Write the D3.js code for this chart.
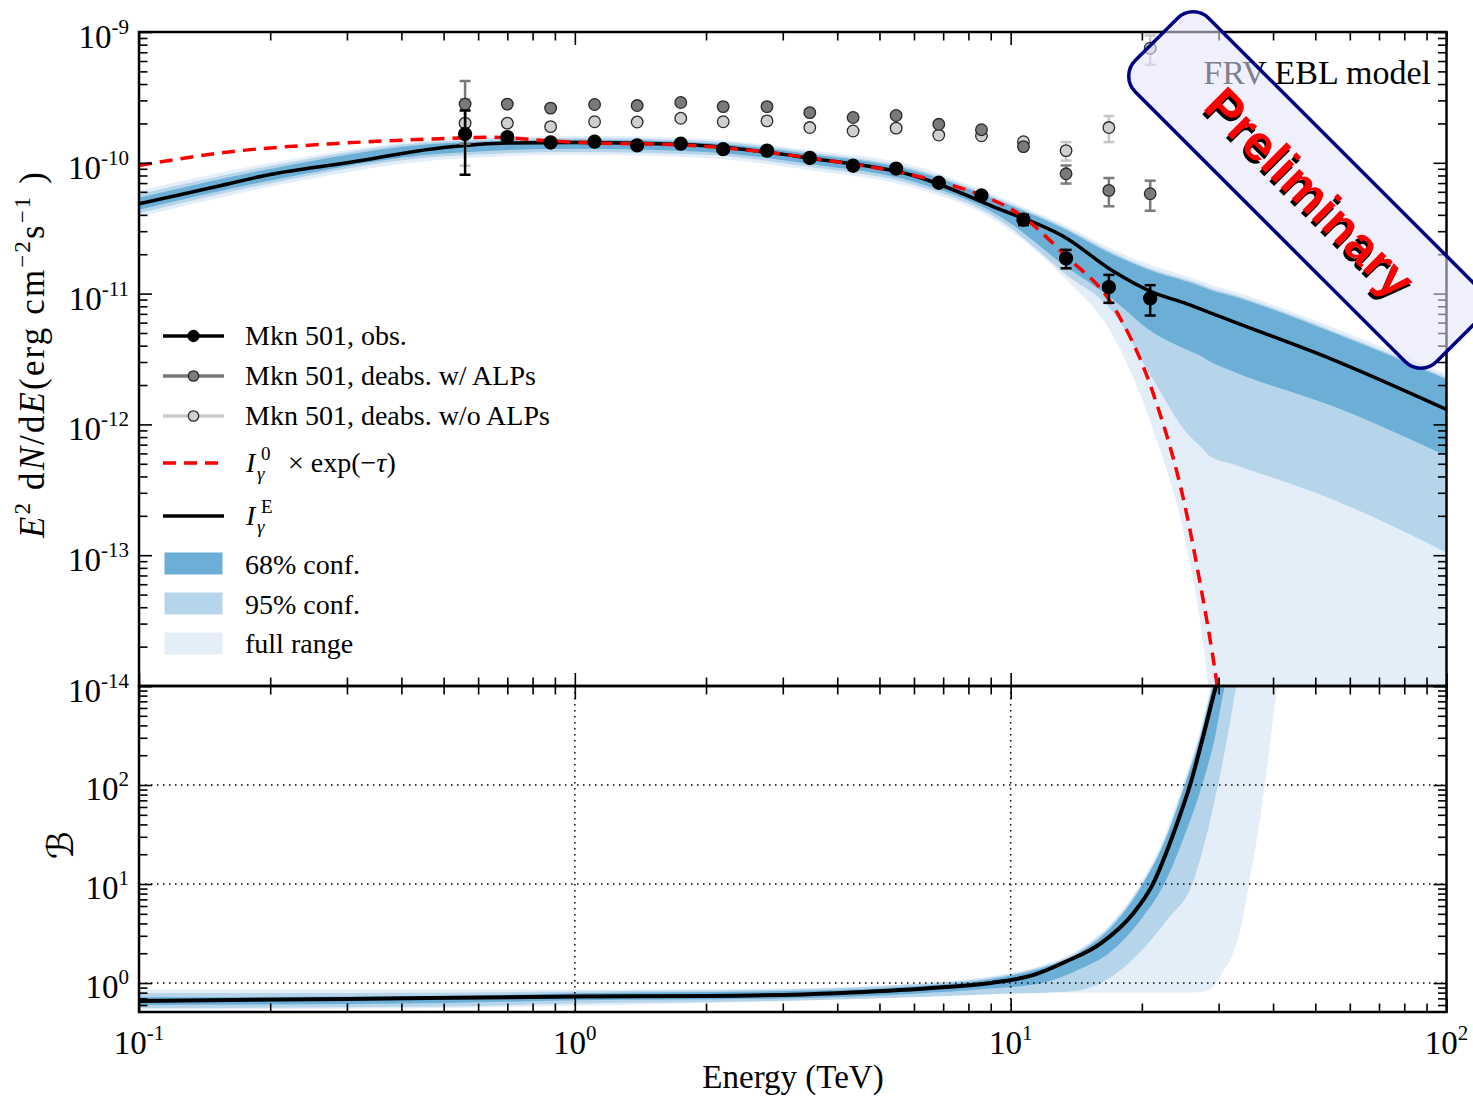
<!DOCTYPE html>
<html>
<head>
<meta charset="utf-8">
<script src="https://cdn.jsdelivr.net/npm/d3@7/dist/d3.min.js"></script>
<style>
  body { margin: 0; background: #fff; }
  svg text { font-family: "Liberation Serif", "Times New Roman", serif; fill: #000; }
</style>
</head>
<body>
<svg id="chart" width="1473" height="1097"></svg>
<script>
// Mkn 501 points (TeV, erg cm^-2 s^-1)
var energy = [0.56, 0.70, 0.88, 1.11, 1.39, 1.75, 2.19, 2.76, 3.46, 4.35, 5.46, 6.84, 8.57, 10.7, 13.4, 16.8, 20.9];
var fluxObs = [1.66e-10, 1.57e-10, 1.43e-10, 1.45e-10, 1.36e-10, 1.40e-10, 1.27e-10, 1.24e-10, 1.09e-10, 9.49e-11, 9.04e-11, 7.04e-11, 5.63e-11, 3.67e-11, 1.86e-11, 1.12e-11, 9.2e-12];
var errObs = [8.5e-11, 4e-12, 4e-12, 4e-12, 4e-12, 4e-12, 4e-12, 4e-12, 3e-12, 3e-12, 3e-12, 2.5e-12, 2.5e-12, 3.3e-12, 3.0e-12, 2.7e-12, 2.4e-12];
var fluxAlp = [2.81e-10, 2.81e-10, 2.62e-10, 2.79e-10, 2.74e-10, 2.89e-10, 2.69e-10, 2.69e-10, 2.42e-10, 2.22e-10, 2.30e-10, 1.97e-10, 1.79e-10, 1.33e-10, 8.24e-11, 6.15e-11, 5.80e-11];
var errAlp = [1.41e-10, 7e-12, 7e-12, 7e-12, 7e-12, 7e-12, 7e-12, 7e-12, 6e-12, 6e-12, 6e-12, 5e-12, 5e-12, 6e-12, 1.3e-11, 1.5e-11, 1.5e-11];
var fluxNoAlp = [2.01e-10, 2.01e-10, 1.89e-10, 2.06e-10, 2.05e-10, 2.19e-10, 2.06e-10, 2.09e-10, 1.86e-10, 1.75e-10, 1.84e-10, 1.63e-10, 1.61e-10, 1.45e-10, 1.24e-10, 1.86e-10, 7.51e-10];
var errNoAlp = [1.06e-10, 5e-12, 5e-12, 5e-12, 5e-12, 5e-12, 5e-12, 5e-12, 5e-12, 5e-12, 5e-12, 5e-12, 5e-12, 6e-12, 2.0e-11, 4.2e-11, 1.9e-10];

// intrinsic x exp(-tau)
var redEnergy = [0.1, 0.164, 0.279, 0.472, 0.65, 0.88, 1.11, 1.75, 3.46, 6.84, 8.4, 10.5, 13.4, 17.2, 21.2, 25.3, 27.1, 29.7, 30.5];
var redFlux = [9.53e-11, 1.22e-10, 1.40e-10, 1.52e-10, 1.57e-10, 1.47e-10, 1.42e-10, 1.37e-10, 1.09e-10, 7.16e-11, 5.8e-11, 4.01e-11, 1.93e-11, 8.0e-12, 1.75e-12, 2.12e-13, 6.56e-14, 1.07e-14, 5.6e-15];

// I_gamma^E
var ieEnergy = [0.1, 0.15, 0.2, 0.3, 0.5, 0.7, 1, 1.4, 2, 3.5, 6, 9.4, 13.4, 17.2, 21.2, 25.3, 28.6, 32.4, 54.8, 100];
var ieFlux = [4.86e-11, 6.56e-11, 8.15e-11, 1.00e-10, 1.31e-10, 1.42e-10, 1.43e-10, 1.41e-10, 1.35e-10, 1.08e-10, 7.96e-11, 4.44e-11, 2.66e-11, 1.48e-11, 1.02e-11, 8.39e-12, 7.16e-12, 6.11e-12, 3.13e-12, 1.30e-12];

// confidence bands, top panel
var bandEnergy = [0.1, 0.2, 0.5, 1, 2, 3.5, 6, 9.4, 13.4, 17.2, 21.2, 25.3, 27.7, 28.6, 32.4, 54.8, 100];
var hi68 = [5.41e-11, 8.97e-11, 1.41e-10, 1.50e-10, 1.42e-10, 1.16e-10, 8.69e-11, 5.11e-11, 3.08e-11, 1.98e-11, 1.48e-11, 1.24e-11, 1.12e-11, 1.07e-11, 9.53e-12, 5.04e-12, 2.21e-12];
var lo68 = [4.38e-11, 7.33e-11, 1.18e-10, 1.28e-10, 1.21e-10, 9.73e-11, 7.16e-11, 3.93e-11, 1.61e-11, 8.99e-12, 5.05e-12, 3.74e-12, 3.25e-12, 3.04e-12, 2.54e-12, 1.38e-12, 5.74e-13];
var hi95 = [5.75e-11, 9.46e-11, 1.46e-10, 1.55e-10, 1.47e-10, 1.20e-10, 9.0e-11, 5.28e-11, 3.18e-11, 2.05e-11, 1.53e-11, 1.28e-11, 1.16e-11, 1.11e-11, 9.86e-12, 5.21e-12, 2.29e-12];
var lo95 = [4.11e-11, 6.95e-11, 1.12e-10, 1.21e-10, 1.15e-10, 9.23e-11, 6.79e-11, 3.67e-11, 1.40e-11, 7.16e-12, 2.21e-12, 8.69e-13, 6.44e-13, 5.73e-13, 4.95e-13, 2.67e-13, 1.05e-13];
var hiFull = [6.11e-11, 9.98e-11, 1.51e-10, 1.61e-10, 1.52e-10, 1.24e-10, 9.48e-11, 5.48e-11, 3.30e-11, 2.17e-11, 1.63e-11, 1.36e-11, 1.23e-11, 1.18e-11, 1.04e-11, 5.52e-12, 2.42e-12];
var loFull = [3.87e-11, 6.55e-11, 1.06e-10, 1.15e-10, 1.09e-10, 8.75e-11, 6.44e-11, 3.47e-11, 1.28e-11, 4.72e-12, 9.16e-13, 1.18e-13, 2.03e-14, 7.96e-15, 1e-16, 1e-16, 1e-16];

// boost factor B, bottom panel
var bEnergy = [0.1, 0.3, 1, 2, 4, 6.6, 9, 11.3, 13.4, 16.1, 19.1, 21.2, 23.2, 24.4, 25.8, 27.6, 29.6, 31];
var bValue = [0.66, 0.69, 0.73, 0.74, 0.79, 0.89, 1.0, 1.21, 1.65, 2.52, 5.05, 10, 26, 48, 100, 300, 1000, 2000];
// band edges as [energy, B]
var bHi68 = [[0.1, 0.72], [0.5, 0.74], [1, 0.79], [3, 0.83], [6, 0.93], [9, 1.1], [12, 1.45], [14.3, 2], [17.5, 4.2], [20.1, 10], [22.8, 30], [25.1, 100], [27.3, 320], [29.1, 1000], [30, 1600]];
var bLo68 = [[0.1, 0.6], [0.5, 0.63], [1, 0.67], [3, 0.7], [6, 0.78], [9, 0.88], [11.8, 1], [14.5, 1.4], [16.8, 2], [20, 4.5], [22.5, 10], [25.2, 33], [27.5, 100], [29.5, 320], [31, 1000], [32, 1600]];
var bHi95 = [[0.1, 0.79], [0.5, 0.8], [1, 0.82], [3, 0.86], [6, 0.97], [9, 1.14], [12, 1.5], [14.2, 2.05], [17.4, 4.3], [20, 10], [22.7, 30], [25, 100], [27.2, 320], [29, 1000], [30, 1600]];
var bLo95 = [[0.1, 0.56], [0.5, 0.58], [1, 0.62], [3, 0.66], [6, 0.72], [9, 0.77], [12, 0.8], [14, 0.83], [16.1, 1.0], [19.7, 2], [23, 4.5], [26.1, 10], [28.1, 30], [29.9, 100], [31.5, 320], [33, 1000], [34, 1600]];
var bHiFull = [[0.1, 0.86], [1, 0.86], [3, 0.88], [6, 0.99], [9, 1.17], [12, 1.55], [14.1, 2.1], [17.3, 4.4], [19.8, 10], [22.5, 30], [24.8, 100], [27, 320], [28.9, 1000], [30, 1600]];
var bLoFull = [[0.1, 0.54], [0.5, 0.56], [1, 0.59], [2, 0.63], [5, 0.72], [9, 0.79], [15, 0.8], [20, 0.8], [26, 0.8], [28.5, 0.84], [29.6, 1.0], [31, 1.4], [32.4, 2], [34, 4.2], [35.2, 10], [36.8, 30], [38.3, 100], [39.6, 320], [40.9, 1000], [41.5, 1600]];

// ticks
var xExps = [-1, 0, 1, 2];
var fluxExps = [-14, -13, -12, -11, -10, -9];
var bExps = [0, 1, 2];
var bGridY = [1, 10, 100];
var bGridX = [1, 10];

var legendLabels = ["Mkn 501, obs.", "Mkn 501, deabs. w/ ALPs", "Mkn 501, deabs. w/o ALPs", "", "", "68% conf.", "95% conf.", "full range"];

function show() {
    'use strict';

    var left = 139, right = 1446.5, top = 32, mid = 686, bottom = 1012;
    var col68 = "#6baed6", col95 = "#b6d5ea", colFull = "#e3eef8";

    var svg = d3.select("#chart");

    var x = d3.scaleLog().domain([0.1, 100]).range([left, right]);
    var yF = d3.scaleLog().domain([1e-14, 1e-9]).range([mid, top]);
    var yB = d3.scaleLog().domain([0.51, 1000]).range([bottom, mid]);

    var defs = svg.append("defs");
    defs.append("clipPath").attr("id", "clipTop").append("rect")
        .attr("x", left).attr("y", top).attr("width", right - left).attr("height", mid - top);
    defs.append("clipPath").attr("id", "clipBot").append("rect")
        .attr("x", left).attr("y", mid).attr("width", right - left).attr("height", bottom - mid);

    var topG = svg.append("g").attr("clip-path", "url(#clipTop)");
    var botG = svg.append("g").attr("clip-path", "url(#clipBot)");

    // ---- top panel bands
    var rows = bandEnergy.map(function (e, i) {
        return { e: e, hi68: hi68[i], lo68: lo68[i], hi95: hi95[i], lo95: lo95[i], hiFull: hiFull[i], loFull: loFull[i] };
    });
    function band(hi, lo) {
        return d3.area()
            .x(function (d) { return x(d.e); })
            .y0(function (d) { return yF(d[lo]); })
            .y1(function (d) { return yF(d[hi]); })
            .curve(d3.curveMonotoneX);
    }
    topG.append("path").datum(rows).attr("d", band("hiFull", "loFull")).attr("fill", colFull);
    topG.append("path").datum(rows).attr("d", band("hi95", "lo95")).attr("fill", col95);
    topG.append("path").datum(rows).attr("d", band("hi68", "lo68")).attr("fill", col68);

    var fluxLine = d3.line()
        .x(function (d) { return x(d[0]); })
        .y(function (d) { return yF(d[1]); })
        .curve(d3.curveMonotoneX);

    topG.append("path").datum(d3.zip(ieEnergy, ieFlux))
        .attr("d", fluxLine).attr("fill", "none")
        .attr("stroke", "#000").attr("stroke-width", 3.5);

    topG.append("path").datum(d3.zip(redEnergy, redFlux))
        .attr("d", fluxLine).attr("fill", "none")
        .attr("stroke", "#ff0000").attr("stroke-width", 3.5)
        .attr("stroke-dasharray", "13,8");

    // ---- data points
    var series = [
        { flux: fluxNoAlp, err: errNoAlp, fill: "#cfcfcf", bar: "#c6c6c6", edge: "#2a2a2a", r: 5.8 },
        { flux: fluxAlp, err: errAlp, fill: "#7a7a7a", bar: "#7a7a7a", edge: "#2a2a2a", r: 5.8 },
        { flux: fluxObs, err: errObs, fill: "#000", bar: "#000", edge: "#000", r: 6.5 }
    ];
    series.forEach(function (s) {
        var g = svg.append("g");
        var pts = g.selectAll("g").data(energy).enter().append("g");
        pts.append("line")
            .attr("x1", function (d) { return x(d); })
            .attr("x2", function (d) { return x(d); })
            .attr("y1", function (d, i) { return yF(s.flux[i] + s.err[i]); })
            .attr("y2", function (d, i) { return yF(s.flux[i] - s.err[i]); })
            .attr("stroke", s.bar).attr("stroke-width", 2.5);
        [1, -1].forEach(function (sign) {
            pts.append("line")
                .attr("x1", function (d) { return x(d) - 5.5; })
                .attr("x2", function (d) { return x(d) + 5.5; })
                .attr("y1", function (d, i) { return yF(s.flux[i] + sign * s.err[i]); })
                .attr("y2", function (d, i) { return yF(s.flux[i] + sign * s.err[i]); })
                .attr("stroke", s.bar).attr("stroke-width", 2.5);
        });
        pts.append("circle")
            .attr("cx", function (d) { return x(d); })
            .attr("cy", function (d, i) { return yF(s.flux[i]); })
            .attr("r", s.r)
            .attr("fill", s.fill).attr("stroke", s.edge).attr("stroke-width", 1.3);
    });

    // ---- bottom panel
    var bLine = d3.line()
        .x(function (d) { return x(d[0]); })
        .y(function (d) { return yB(d[1]); })
        .curve(d3.curveMonotoneX);
    function bBand(upper, lower) {
        return bLine(upper) + bLine(lower.slice().reverse()).replace(/^M/, "L") + "Z";
    }
    botG.append("path").attr("d", bBand(bHiFull, bLoFull)).attr("fill", colFull);
    botG.append("path").attr("d", bBand(bHi95, bLo95)).attr("fill", col95);
    botG.append("path").attr("d", bBand(bHi68, bLo68)).attr("fill", col68);

    botG.selectAll("line.gy").data(bGridY).enter().append("line")
        .attr("x1", left).attr("x2", right)
        .attr("y1", function (d) { return yB(d); }).attr("y2", function (d) { return yB(d); })
        .attr("stroke", "#000").attr("stroke-width", 1.5).attr("stroke-dasharray", "1.5,4.5");
    botG.selectAll("line.gx").data(bGridX).enter().append("line")
        .attr("y1", mid).attr("y2", bottom)
        .attr("x1", function (d) { return x(d); }).attr("x2", function (d) { return x(d); })
        .attr("stroke", "#000").attr("stroke-width", 1.5).attr("stroke-dasharray", "1.5,4.5");

    botG.append("path").datum(d3.zip(bEnergy, bValue))
        .attr("d", bLine).attr("fill", "none")
        .attr("stroke", "#000").attr("stroke-width", 4);

    // ---- ticks
    function minorsOf(exps, lo, hi) {
        var out = [];
        exps.forEach(function (k) {
            for (var m = 2; m <= 9; m++) {
                var v = m * Math.pow(10, k);
                if (v > lo && v < hi) out.push(v);
            }
        });
        return out;
    }
    var xMajor = xExps.map(function (k) { return Math.pow(10, k); });
    var xMinor = minorsOf(xExps, 0.1, 100);
    var fMajor = fluxExps.map(function (k) { return Math.pow(10, k); });
    var fMinor = minorsOf(fluxExps, 1e-14, 1e-9);
    var bMajor = [1, 10, 100, 1000];
    var bMinor = minorsOf([-1, 0, 1, 2], 0.51, 1000);

    function ticks(axisFn, scale, vals, size, tx, ty) {
        var g = svg.append("g").attr("transform", "translate(" + tx + "," + ty + ")")
            .call(axisFn(scale).tickValues(vals).tickSize(-size).tickFormat(""));
        g.select(".domain").remove();
        g.selectAll(".tick line").attr("stroke", "#000").attr("stroke-width", 1.6);
    }
    [[xMajor, 13], [xMinor, 8.5]].forEach(function (t) {
        ticks(d3.axisTop, x, t[0], t[1], 0, top);
        ticks(d3.axisBottom, x, t[0], t[1], 0, mid);
        ticks(d3.axisTop, x, t[0], t[1], 0, mid);
        ticks(d3.axisBottom, x, t[0], t[1], 0, bottom);
    });
    [[fMajor, 13], [fMinor, 8.5]].forEach(function (t) {
        ticks(d3.axisLeft, yF, t[0], t[1], left, 0);
        ticks(d3.axisRight, yF, t[0], t[1], right, 0);
    });
    [[bMajor, 13], [bMinor, 8.5]].forEach(function (t) {
        ticks(d3.axisLeft, yB, t[0], t[1], left, 0);
        ticks(d3.axisRight, yB, t[0], t[1], right, 0);
    });

    // frames
    [[top, mid], [mid, bottom]].forEach(function (p) {
        svg.append("rect").attr("x", left).attr("y", p[0])
            .attr("width", right - left).attr("height", p[1] - p[0])
            .attr("fill", "none").attr("stroke", "#000").attr("stroke-width", 2.5);
    });

    // ---- tick labels
    function powLabel(px, py, exp, anchor) {
        var t = svg.append("text").attr("x", px).attr("y", py)
            .attr("text-anchor", anchor).attr("font-size", 33);
        t.append("tspan").text("10");
        t.append("tspan").attr("dy", -14).attr("font-size", 21).text(exp);
    }
    fluxExps.forEach(function (k) {
        powLabel(129, yF(Math.pow(10, k)) + 16, String(k), "end");
    });
    bExps.forEach(function (k) {
        powLabel(129, yB(Math.pow(10, k)) + 15, String(k), "end");
    });
    xExps.forEach(function (k) {
        powLabel(x(Math.pow(10, k)), 1054, String(k), "middle");
    });

    // ---- axis titles
    svg.append("text").attr("x", 793).attr("y", 1088)
        .attr("text-anchor", "middle").attr("font-size", 33).text("Energy (TeV)");

    var yl = svg.append("text").attr("transform", "translate(44,355) rotate(-90)")
        .attr("text-anchor", "middle").attr("font-size", 35)
        .attr("textLength", 366).attr("lengthAdjust", "spacing");
    yl.append("tspan").attr("font-style", "italic").text("E");
    yl.append("tspan").attr("dy", -14).attr("font-size", 23).text("2");
    yl.append("tspan").attr("dy", 14).text(" d");
    yl.append("tspan").attr("font-style", "italic").text("N");
    yl.append("tspan").text("/d");
    yl.append("tspan").attr("font-style", "italic").text("E");
    yl.append("tspan").text("(erg cm");
    yl.append("tspan").attr("dy", -14).attr("font-size", 23).text("\u22122");
    yl.append("tspan").attr("dy", 14).text("s");
    yl.append("tspan").attr("dy", -14).attr("font-size", 23).text("\u22121");
    yl.append("tspan").attr("dy", 14).text(" )");

    svg.append("text").attr("transform", "translate(73,845) rotate(-90)")
        .attr("text-anchor", "middle").attr("font-size", 36)
        .style("font-family", "'DejaVu Serif', 'DejaVu Sans', serif")
        .attr("font-style", "italic").text("\u212C");

    // ---- legend
    var lg = svg.append("g");
    var rowY = [336, 376, 416, 463, 516, 563.5, 603.5, 643.5];
    var rowBase = [345, 385, 425, 472, 525, 574, 614, 653];
    var handleColor = ["#000", "#777", "#c8c8c8"];
    var handleFill = ["#000", "#7a7a7a", "#cfcfcf"];
    [0, 1, 2].forEach(function (i) {
        lg.append("line").attr("x1", 163).attr("x2", 224).attr("y1", rowY[i]).attr("y2", rowY[i])
            .attr("stroke", handleColor[i]).attr("stroke-width", 3.5);
        lg.append("circle").attr("cx", 193.5).attr("cy", rowY[i]).attr("r", i === 0 ? 5.5 : 5.2)
            .attr("fill", handleFill[i]).attr("stroke", i === 0 ? "#000" : "#2a2a2a").attr("stroke-width", 1.3);
    });
    lg.append("line").attr("x1", 163).attr("x2", 224).attr("y1", rowY[3]).attr("y2", rowY[3])
        .attr("stroke", "#ff0000").attr("stroke-width", 3.5).attr("stroke-dasharray", "13,8");
    lg.append("line").attr("x1", 163).attr("x2", 224).attr("y1", rowY[4]).attr("y2", rowY[4])
        .attr("stroke", "#000").attr("stroke-width", 3.5);
    [col68, col95, colFull].forEach(function (c, i) {
        lg.append("rect").attr("x", 164.5).attr("y", rowY[5 + i] - 11).attr("width", 58).attr("height", 22)
            .attr("fill", c);
    });
    legendLabels.forEach(function (l, i) {
        if (l) lg.append("text").attr("x", 245).attr("y", rowBase[i]).attr("font-size", 28).text(l);
    });
    // I_gamma^0 x exp(-tau)
    lg.append("text").attr("x", 246).attr("y", rowBase[3]).attr("font-size", 28).attr("font-style", "italic").text("I");
    lg.append("text").attr("x", 257).attr("y", rowBase[3] + 8).attr("font-size", 19).attr("font-style", "italic").text("\u03B3");
    lg.append("text").attr("x", 261).attr("y", rowBase[3] - 12).attr("font-size", 19).text("0");
    var ex = lg.append("text").attr("x", 288).attr("y", rowBase[3]).attr("font-size", 28);
    ex.append("tspan").text("\u00D7 exp(\u2212");
    ex.append("tspan").attr("font-style", "italic").text("\u03C4");
    ex.append("tspan").text(")");
    // I_gamma^E
    lg.append("text").attr("x", 246).attr("y", rowBase[4]).attr("font-size", 28).attr("font-style", "italic").text("I");
    lg.append("text").attr("x", 257).attr("y", rowBase[4] + 8).attr("font-size", 19).attr("font-style", "italic").text("\u03B3");
    lg.append("text").attr("x", 261).attr("y", rowBase[4] - 12).attr("font-size", 19).text("E");

    // ---- annotations
    svg.append("text").attr("x", 1431).attr("y", 84).attr("text-anchor", "end")
        .attr("font-size", 34).text("FRV EBL model");

    var stamp = svg.append("g").attr("transform", "translate(1307,190) rotate(45)");
    stamp.append("rect").attr("x", -213).attr("y", -52).attr("width", 426).attr("height", 104).attr("rx", 22)
        .attr("fill", "rgb(228,228,250)").attr("fill-opacity", 0.56)
        .attr("stroke", "#000080").attr("stroke-width", 3.5);
    [["#000", 1.2, 3.5], ["#ff0000", 0, 0]].forEach(function (s) {
        stamp.append("text").attr("x", 4 + s[1]).attr("y", 17 + s[2])
            .attr("text-anchor", "middle").attr("font-size", 50).attr("font-weight", "bold")
            .style("font-family", "'Liberation Sans', Arial, sans-serif")
            .style("fill", s[0]).text("Preliminary");
    });
}

show();
</script>
</body>
</html>
